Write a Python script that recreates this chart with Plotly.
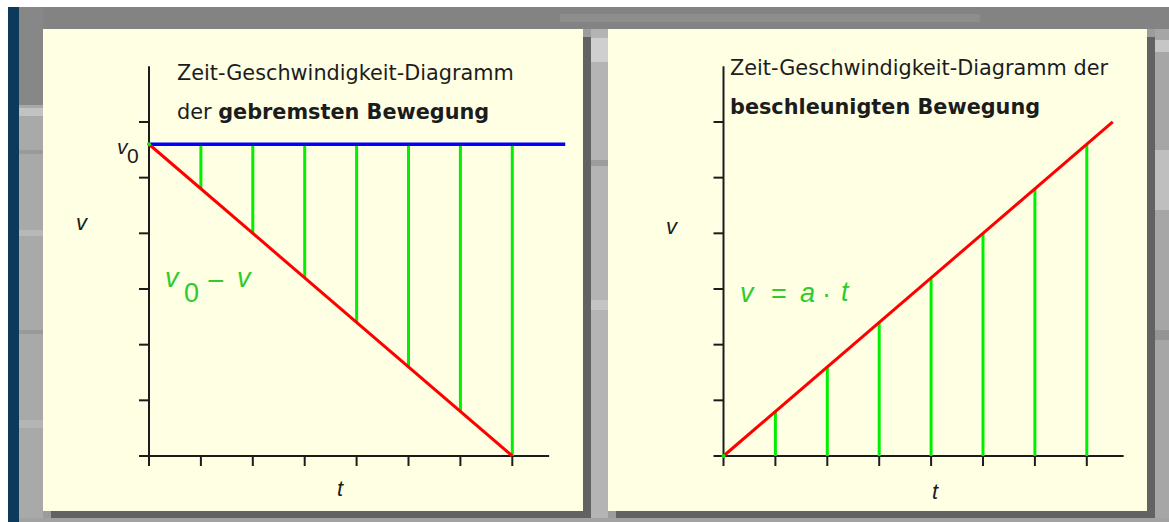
import plotly.graph_objects as go

W, H = 1169, 522

# ---------------- data (velocity / time in tick units) ----------------
t_ticks = [0, 1, 2, 3, 4, 5, 6, 7]
v_ticks = [1, 2, 3, 4, 5, 6]
v0 = 5.6

# braked motion: velocity falls linearly from v0 to zero
brake_t = [0, 7]
brake_v = [5.6, 0.0]
const_t = [0, 8.02]               # reference line at v0
const_v = [5.6, 5.6]
brake_step_t = [1, 2, 3, 4, 5, 6, 7]
brake_step_v = [4.8, 4.0, 3.2, 2.4, 1.6, 0.8, 0.0]

# accelerated motion: velocity grows linearly from zero
accel_t = [0, 7.5]
accel_v = [0.0, 6.0]
accel_step_t = [1, 2, 3, 4, 5, 6, 7]
accel_step_v = [0.8, 1.6, 2.4, 3.2, 4.0, 4.8, 5.6]

# ---------------- geometry / style ----------------
T_PX = 51.9      # pixels per time unit
V_PX = 55.67     # pixels per velocity unit
TICK = 10        # tick length in pixels
AXIS_T_END = 7.71
AXIS_V_END = 7.0

CREAM = "#FFFFE4"
SHADOW = "#626262"
RED = "#FF0000"
BLUE = "#0000FF"
GREEN = "#00F000"
GREEN_TXT = "#2ECC2E"
INK = "#1c1c1c"

panels = {
    "left": dict(box=(43, 29, 583, 511), origin=(149, 456), xa="x", ya="y"),
    "right": dict(box=(608, 29, 1147, 511), origin=(723.5, 456), xa="x2", ya="y2"),
}


def fx(px):
    return px / W


def fy(py):
    return 1 - py / H


fig = go.Figure()

# ---------------- axes (domains cover each panel, fixed pixel scale) ----------------
for name, p in panels.items():
    x0, y0, x1, y1 = p["box"]
    ox, oy = p["origin"]
    xr = [(x0 - ox) / T_PX, (x1 - ox) / T_PX]
    yr = [(oy - y1) / V_PX, (oy - y0) / V_PX]
    xkey = "xaxis" if p["xa"] == "x" else "xaxis2"
    ykey = "yaxis" if p["ya"] == "y" else "yaxis2"
    fig.update_layout(**{
        xkey: dict(domain=[fx(x0), fx(x1)], range=xr, visible=False,
                   fixedrange=True, anchor=p["ya"]),
        ykey: dict(domain=[fy(y1), fy(y0)], range=yr, visible=False,
                   fixedrange=True, anchor=p["xa"]),
    })


def axis_trace(xa, ya):
    xs, ys = [], []
    # horizontal axis (starts one tick length left of the origin)
    xs += [-TICK / T_PX, AXIS_T_END, None]
    ys += [0, 0, None]
    # vertical axis
    xs += [0, 0, None]
    ys += [0, AXIS_V_END, None]
    for t in t_ticks:
        xs += [t, t, None]
        ys += [0, -TICK / V_PX, None]
    for v in v_ticks:
        xs += [-TICK / T_PX, 0, None]
        ys += [v, v, None]
    return go.Scatter(x=xs, y=ys, mode="lines", xaxis=xa, yaxis=ya,
                      line=dict(color=INK, width=2), hoverinfo="skip",
                      showlegend=False)


def stems(ts, lo, hi, xa, ya):
    xs, ys = [], []
    for t, a, b in zip(ts, lo, hi):
        xs += [t, t, None]
        ys += [a, b, None]
    return go.Scatter(x=xs, y=ys, mode="lines", xaxis=xa, yaxis=ya,
                      line=dict(color=GREEN, width=3), hoverinfo="skip",
                      showlegend=False)


# left chart: braked motion
fig.add_trace(axis_trace("x", "y"))
fig.add_trace(stems(brake_step_t, brake_step_v, [v0] * len(brake_step_t), "x", "y"))
fig.add_trace(go.Scatter(x=const_t, y=const_v, mode="lines", xaxis="x", yaxis="y",
                         line=dict(color=BLUE, width=3.5), showlegend=False))
fig.add_trace(go.Scatter(x=brake_t, y=brake_v, mode="lines", xaxis="x", yaxis="y",
                         line=dict(color=RED, width=3), showlegend=False))
fig.add_trace(go.Scatter(x=[0], y=[v0], mode="markers", xaxis="x", yaxis="y",
                         marker=dict(color=GREEN, size=4), showlegend=False))

# right chart: accelerated motion
fig.add_trace(axis_trace("x2", "y2"))
fig.add_trace(stems(accel_step_t, [0] * len(accel_step_t), accel_step_v, "x2", "y2"))
fig.add_trace(go.Scatter(x=accel_t, y=accel_v, mode="lines", xaxis="x2", yaxis="y2",
                         line=dict(color=RED, width=3), showlegend=False))
fig.add_trace(go.Scatter(x=[0], y=[0], mode="markers", xaxis="x2", yaxis="y2",
                         marker=dict(color=GREEN, size=4), showlegend=False))

# ---------------- background, panels and shadows ----------------
shapes = []


def rect(x0, y0, x1, y1, color):
    shapes.append(dict(type="rect", xref="paper", yref="paper",
                       x0=fx(x0), x1=fx(x1), y0=fy(y1), y1=fy(y0),
                       fillcolor=color, line=dict(width=0), layer="below"))


# textured grey backdrop
rect(0, 7, W, 29, "#838383")
rect(560, 14, 980, 22, "#8d8d8d")
rect(19, 7, 43, 105, "#878787")
rect(19, 105, 43, H, "#a9a9a9")
rect(19, 108, 43, 116, "#c2c2c2")
rect(19, 150, 43, 154, "#9a9a9a")
rect(19, 230, 43, 236, "#b8b8b8")
rect(19, 330, 43, 334, "#999999")
rect(19, 420, 43, 428, "#b5b5b5")
rect(591, 29, 608, H, "#b4b4b4")
rect(591, 38, 608, 62, "#cfcfcf")
rect(591, 160, 608, 166, "#9c9c9c")
rect(591, 300, 608, 310, "#c4c4c4")
rect(1155, 29, W, H, "#a6a6a6")
rect(1155, 40, W, 52, "#c6c6c6")
rect(1155, 150, W, 210, "#bfbfbf")
rect(1155, 330, W, 340, "#949494")
rect(0, 518, W, H, "#a2a2a2")
# page edge and dark side stripe
rect(0, 0, W, 7, "#ffffff")
rect(0, 0, 8, H, "#ffffff")
rect(8, 7, 19, H, "#0b3a5b")

for p in panels.values():
    x0, y0, x1, y1 = p["box"]
    rect(x1, y0 + 8, x1 + 8, y1 + 7, SHADOW)
    rect(x0 + 8, y1, x1 + 8, y1 + 7, SHADOW)
    rect(x0, y0, x1, y1, CREAM)

# ---------------- text ----------------
annotations = []
TITLE_FONT = "DejaVu Sans"
LABEL_FONT = "Liberation Sans"


def label(text, cx, cy, size, color=INK, family=LABEL_FONT, anchor="center"):
    annotations.append(dict(text=text, xref="paper", yref="paper",
                            x=fx(cx), y=fy(cy), xanchor=anchor, yanchor="middle",
                            showarrow=False,
                            font=dict(family=family, size=size, color=color)))


# titles
label("Zeit-Geschwindigkeit-Diagramm", 175, 73, 20.8, family=TITLE_FONT, anchor="left")
label("der <b>gebremsten Bewegung</b>", 175, 112, 20.8, family=TITLE_FONT, anchor="left")
label("Zeit-Geschwindigkeit-Diagramm der", 728, 68, 20.8, family=TITLE_FONT, anchor="left")
label("<b>beschleunigten Bewegung</b>", 728, 107, 20.8, family=TITLE_FONT, anchor="left")

# axis names
label("<i>v</i>", 82, 222, 22)
label("<i>t</i>", 340, 488, 22)
label("<i>v</i>", 672, 226, 22)
label("<i>t</i>", 935, 491, 22)

# v0 marker on the left velocity axis, tied to the data value
annotations.append(dict(text="<i>v</i>", xref="x", yref="y", x=0, y=v0,
                        xanchor="center", yanchor="middle", xshift=-26, yshift=-2,
                        showarrow=False, font=dict(family=LABEL_FONT, size=21, color=INK)))
annotations.append(dict(text="0", xref="x", yref="y", x=0, y=v0,
                        xanchor="center", yanchor="middle", xshift=-16, yshift=-11,
                        showarrow=False, font=dict(family=LABEL_FONT, size=21, color=INK)))

# green formulas
GS = 27
label("<i>v</i>", 172, 278, GS, GREEN_TXT)
label("0", 191, 293, GS, GREEN_TXT)
label("−", 216, 280, GS + 3, GREEN_TXT)
label("<i>v</i>", 244, 278, GS, GREEN_TXT)

label("<i>v</i>", 747, 293, GS, GREEN_TXT)
label("=", 779, 294, GS, GREEN_TXT)
label("<i>a</i>", 807, 293, GS, GREEN_TXT)
label("·", 826, 294, GS, GREEN_TXT)
label("<i>t</i>", 845, 292, GS, GREEN_TXT)

fig.update_layout(
    width=W, height=H,
    margin=dict(l=0, r=0, t=0, b=0),
    paper_bgcolor="#9c9c9c",
    plot_bgcolor="rgba(0,0,0,0)",
    shapes=shapes,
    annotations=annotations,
    showlegend=False,
    hovermode=False,
)

fig.write_html("out.html", config={"displayModeBar": False})
